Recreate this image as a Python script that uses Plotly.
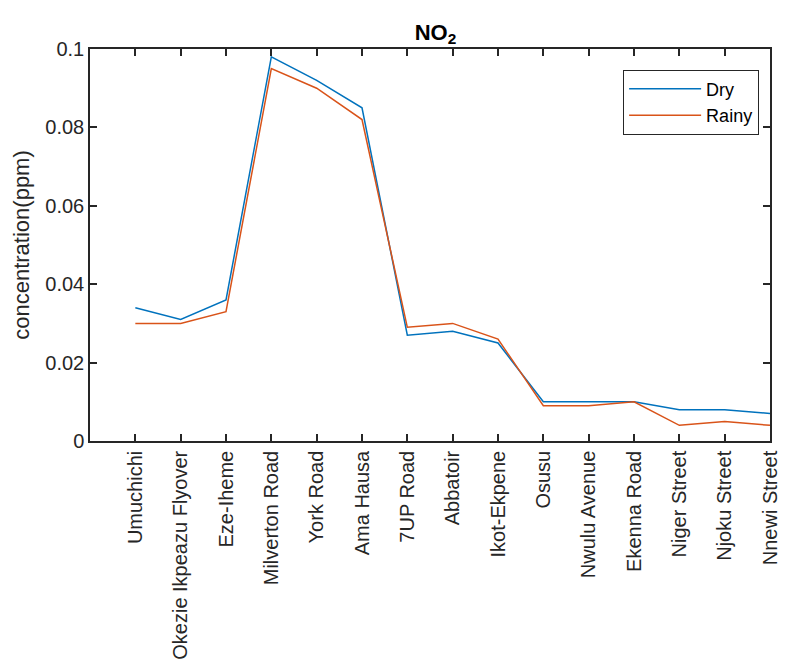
import plotly.graph_objects as go

sites = ["Umuchichi", "Okezie Ikpeazu Flyover", "Eze-Iheme", "Milverton Road", "York Road",
         "Ama Hausa", "7UP Road", "Abbatoir", "Ikot-Ekpene", "Osusu", "Nwulu Avenue",
         "Ekenna Road", "Niger Street", "Njoku Street", "Nnewi Street"]
dry = [0.034, 0.031, 0.036, 0.098, 0.092, 0.085, 0.027, 0.028, 0.025, 0.010, 0.010,
       0.010, 0.008, 0.008, 0.007]
rainy = [0.030, 0.030, 0.033, 0.095, 0.090, 0.082, 0.029, 0.030, 0.026, 0.009, 0.009,
         0.010, 0.004, 0.005, 0.004]
ytick_vals = [0, 0.02, 0.04, 0.06, 0.08, 0.1]
ytick_text = ["0", "0.02", "0.04", "0.06", "0.08", "0.1"]

xpos = list(range(1, len(sites) + 1))

FONT = "Liberation Sans, Arial, Helvetica, sans-serif"

fig = go.Figure()
fig.add_trace(go.Scatter(x=xpos, y=dry, mode="lines", name="Dry",
                         line=dict(color="#0072BD", width=1.5)))
fig.add_trace(go.Scatter(x=xpos, y=rainy, mode="lines", name="Rainy",
                         line=dict(color="#D95319", width=1.5)))

axis_common = dict(showline=True, linecolor="#262626", linewidth=1.5, mirror="ticks",
                   ticks="inside", ticklen=7, tickcolor="#262626", tickwidth=1.5,
                   showgrid=False, zeroline=False,
                   tickfont=dict(family=FONT, size=20, color="#262626"))

W, H = 785, 664  # page body has an 8px margin
fig.update_layout(
    width=W, height=H,
    margin=dict(l=82, r=12, t=41, b=227),
    paper_bgcolor="white", plot_bgcolor="white",
    font=dict(family=FONT, color="#262626"),
    title=dict(text="<b>NO<sub>2</sub></b>", x=(82 + 773) / 2 / W, xanchor="center",
               y=1 - 24 / H, yanchor="middle",
               font=dict(family=FONT, size=22, color="#000000")),
    xaxis=dict(range=[0, 15], tickvals=xpos, ticktext=sites, tickangle=-90, **axis_common),
    yaxis=dict(range=[0, 0.1], tickvals=ytick_vals, ticktext=ytick_text,
               title=dict(text="concentration(ppm)", font=dict(family=FONT, size=22, color="#262626"),
                          standoff=10),
               **axis_common),
    legend=dict(x=0.784, y=0.9475, xanchor="left", yanchor="top",
                bgcolor="white", bordercolor="#262626", borderwidth=1,
                font=dict(family=FONT, size=18, color="#000000"), itemwidth=72,
                tracegroupgap=0),
    showlegend=True,
)

fig.write_html("out.html")
